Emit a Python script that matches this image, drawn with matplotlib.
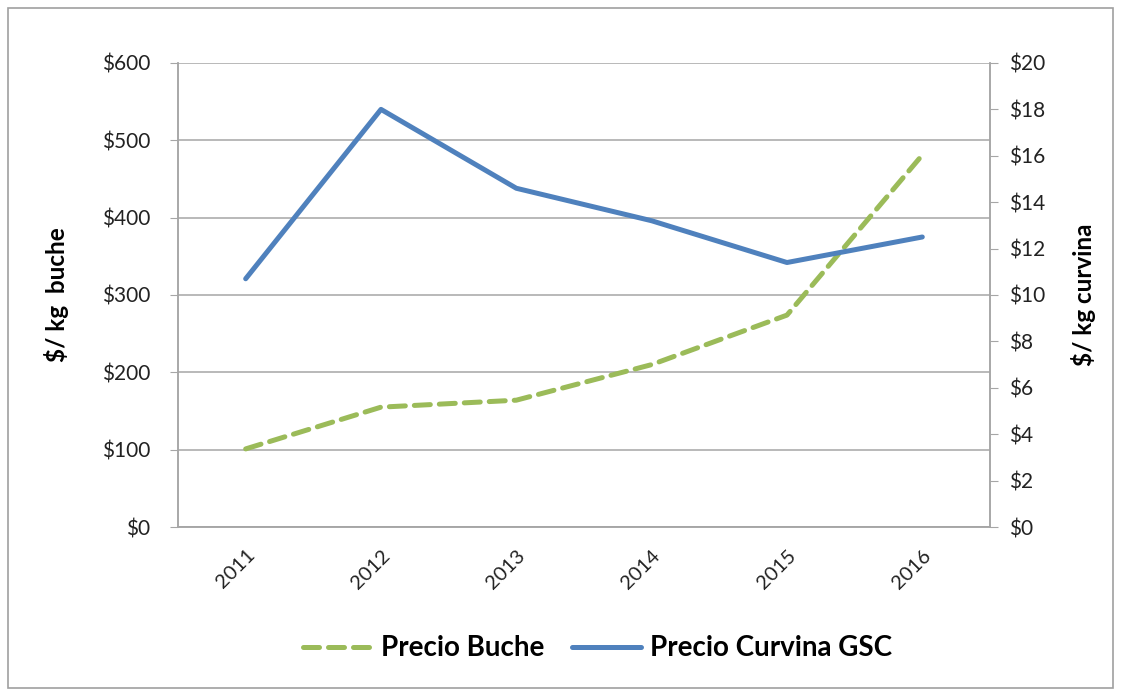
import matplotlib.pyplot as plt
from matplotlib.patches import Rectangle

plt.rcParams["font.family"] = ["Lato", "DejaVu Sans"]

# --- dati ---
years = ["2011", "2012", "2013", "2014", "2015", "2016"]
precio_buche = [101, 155, 164, 210, 274, 481]          # $/kg, asse sinistro
precio_curvina = [10.7, 18.0, 14.6, 13.2, 11.4, 12.5]  # $/kg, asse destro

left_ticks = [0, 100, 200, 300, 400, 500, 600]
right_ticks = [0, 2, 4, 6, 8, 10, 12, 14, 16, 18, 20]

C_GREEN = "#9BBB59"
C_BLUE = "#4F81BD"
C_GRID = "#A6A6A6"

fig = plt.figure(figsize=(11.21, 6.92), dpi=100)
ax = fig.add_axes([0.1588, 0.2384, 0.7243, 0.6706])
ax2 = ax.twinx()

x = range(len(years))

# --- linee ---
l1, = ax.plot(x, precio_buche, color=C_GREEN, lw=3.6, ls=(0, (3.2, 1.8)),
              dash_capstyle="round", label="Precio Buche", zorder=3)
l2, = ax2.plot(x, precio_curvina, color=C_BLUE, lw=3.6,
               solid_capstyle="round", label="Precio Curvina GSC", zorder=3)

# --- assi ---
ax.set_xlim(-0.5, len(years) - 0.5)
ax.set_ylim(0, 600)
ax2.set_ylim(0, 20)
ax.set_yticks(left_ticks)
ax.set_yticklabels([f"${v}" for v in left_ticks], fontsize=15, color="#222222")
ax2.set_yticks(right_ticks)
ax2.set_yticklabels([f"${v}" for v in right_ticks], fontsize=15, color="#222222")
ax.set_xticks(list(x))
ax.set_xticklabels(years, rotation=45, ha="right", va="top", fontsize=14.5,
                   rotation_mode="anchor", color="#222222")

ax.yaxis.grid(True, color=C_GRID, lw=1.1)
ax.set_axisbelow(True)
for a in (ax, ax2):
    a.spines["top"].set_visible(False)
    for s in ("left", "right", "bottom"):
        a.spines[s].set_color(C_GRID)
        a.spines[s].set_linewidth(1.1)
ax.tick_params(axis="y", length=6, color=C_GRID, pad=14)
ax.tick_params(axis="x", length=0, pad=14)
ax2.tick_params(axis="y", length=6, color=C_GRID, pad=8)

ax.set_ylabel("$/ kg  buche", fontsize=17.5, fontweight="bold", labelpad=24)
ax2.set_ylabel("$/ kg curvina", fontsize=17.5, fontweight="bold", labelpad=18)

# --- legenda ---
fig.legend(handles=[l1, l2], loc="center", bbox_to_anchor=(0.533, 0.063),
           ncol=2, frameon=False, handlelength=2.5, handletextpad=0.3,
           columnspacing=1.0, prop={"size": 20, "weight": "bold"})

# --- cornice ---
fig.patches.append(Rectangle((0.007, 0.006), 0.986, 0.983, transform=fig.transFigure,
                             fill=False, edgecolor="#A0A0A0", lw=1.2))

fig.savefig("out.png", dpi=100)
